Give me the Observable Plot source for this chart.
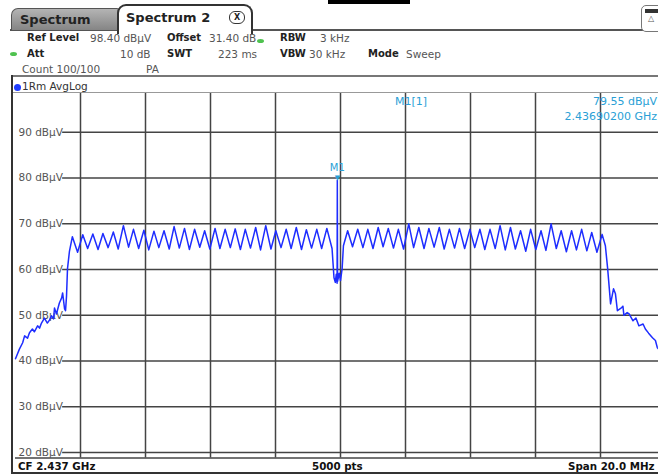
<!DOCTYPE html>
<html><head><meta charset="utf-8">
<script src="https://cdn.jsdelivr.net/npm/d3@7"></script>
<script src="https://cdn.jsdelivr.net/npm/@observablehq/plot@0.6"></script>
<style>
body{margin:0;background:#fff;font-family:"DejaVu Sans",sans-serif;}
#wrap{position:relative;width:658px;height:474px;overflow:hidden;background:#fff;}
#wrap svg{position:absolute;left:0;top:0;}
.abs{position:absolute;white-space:nowrap;}
.v{font-size:10.5px;color:#555;line-height:12px;}
.b{font-size:10px;font-weight:bold;color:#222;line-height:12px;}
.st{font-size:10.3px;font-weight:bold;color:#111;line-height:12px;}
.mk{font-size:11px;color:#2a9fd6;line-height:13px;}
.dotg{width:7px;height:4px;border-radius:50%;background:#4fc24f;}
</style></head>
<body><div id="wrap"></div>
<script>
// ---- data ----
const xDomain = [2427, 2447];          // MHz (CF 2.437 GHz, span 20 MHz)
const yDomain = [18.8, 98.5];          // dBµV
const yTicks = [20, 30, 40, 50, 60, 70, 80, 90];
const xGridTicks = [2429, 2431, 2433, 2435, 2437, 2439, 2441, 2443, 2445];

const skirtLeftFreq  = [2427.00, 2427.12, 2427.22, 2427.28, 2427.37, 2427.43, 2427.52, 2427.58, 2427.68, 2427.74, 2427.80, 2427.89, 2427.98, 2428.05, 2428.11, 2428.17, 2428.20, 2428.26, 2428.35, 2428.42, 2428.45, 2428.51, 2428.54, 2428.57, 2428.60, 2428.66];
const skirtLeftLevel = [40.5, 42.6, 44.0, 45.5, 45.0, 46.2, 47.0, 46.4, 47.7, 47.2, 48.3, 49.4, 48.3, 49.0, 49.9, 49.2, 51.6, 50.3, 52.7, 53.8, 54.9, 51.4, 51.0, 54.2, 60.2, 64.0];

const leftPeakFreq  = [2428.75, 2429.07, 2429.38, 2429.69, 2430.01, 2430.32, 2430.63, 2430.95, 2431.26, 2431.57, 2431.88, 2432.20, 2432.51, 2432.82, 2433.14, 2433.45, 2433.76, 2434.07, 2434.39, 2434.70, 2435.01, 2435.33, 2435.64, 2435.95, 2436.27, 2436.58];
const leftPeakLevel = [67.2, 67.6, 67.8, 67.9, 68.2, 69.6, 68.8, 68.6, 68.4, 68.5, 69.4, 69.0, 68.8, 68.5, 69.0, 68.8, 68.9, 68.8, 69.2, 69.6, 68.5, 68.8, 69.2, 68.7, 68.8, 69.0];
const leftTroughFreq  = [2428.91, 2429.22, 2429.54, 2429.85, 2430.16, 2430.48, 2430.79, 2431.10, 2431.41, 2431.73, 2432.04, 2432.35, 2432.67, 2432.98, 2433.29, 2433.61, 2433.92, 2434.23, 2434.54, 2434.86, 2435.17, 2435.48, 2435.80, 2436.11, 2436.42];
const leftTroughLevel = [63.8, 64.6, 64.4, 64.8, 64.5, 64.9, 64.6, 64.3, 64.8, 64.5, 64.7, 64.4, 64.9, 64.5, 64.6, 64.8, 64.4, 64.7, 64.3, 64.5, 64.8, 64.6, 64.4, 64.7, 64.6];

const notchFreq  = [2436.74, 2436.80, 2436.84, 2436.87, 2436.895, 2436.902, 2436.91, 2436.96, 2437.00, 2437.05, 2437.09];
const notchLevel = [64.6, 58.2, 57.2, 59.0, 57.0, 79.55, 57.4, 59.2, 57.6, 60.2, 65.2];

const rightPeakFreq  = [2437.22, 2437.53, 2437.84, 2438.16, 2438.47, 2438.78, 2439.10, 2439.41, 2439.72, 2440.04, 2440.35, 2440.66, 2440.98, 2441.29, 2441.60, 2441.91, 2442.23, 2442.54, 2442.85, 2443.17, 2443.48, 2443.79, 2444.11, 2444.42, 2444.73, 2445.05];
const rightPeakLevel = [68.5, 68.8, 68.8, 69.2, 69.0, 68.8, 70.0, 69.2, 69.0, 69.2, 68.8, 69.0, 68.8, 68.8, 68.8, 69.6, 69.2, 68.5, 68.8, 68.5, 70.0, 68.5, 68.5, 68.8, 68.1, 67.7];
const rightTroughFreq  = [2437.37, 2437.69, 2438.00, 2438.31, 2438.63, 2438.94, 2439.25, 2439.57, 2439.88, 2440.19, 2440.51, 2440.82, 2441.13, 2441.44, 2441.76, 2442.07, 2442.38, 2442.70, 2443.01, 2443.32, 2443.64, 2443.95, 2444.26, 2444.58, 2444.89];
const rightTroughLevel = [65.0, 64.8, 64.6, 65.0, 64.7, 64.5, 64.8, 64.6, 64.9, 64.5, 64.7, 64.6, 64.8, 64.4, 64.6, 64.3, 64.5, 64.0, 64.4, 64.2, 64.6, 63.9, 64.3, 64.1, 63.8];

const skirtRightFreq  = [2445.15, 2445.22, 2445.31, 2445.40, 2445.46, 2445.52, 2445.62, 2445.69, 2445.72, 2445.82, 2445.88, 2446.00, 2446.09, 2446.18, 2446.31, 2446.38, 2446.48, 2446.60, 2446.69, 2446.75, 2446.88, 2447.00];
const skirtRightLevel = [65.2, 60.2, 52.5, 55.8, 54.7, 51.0, 51.5, 52.0, 50.0, 50.6, 50.3, 48.8, 49.4, 47.7, 48.1, 47.0, 46.1, 45.1, 44.5, 42.9, 42.0, 41.2];

const markerName = "M1";
const markerFreq = 2436.902;   // MHz
const markerLevel = 79.55;     // dBµV

// ---- build trace table ----
const pairs = (fs, ls) => fs.map((f, i) => ({f, v: ls[i]}));
const trace = [
  ...pairs(skirtLeftFreq, skirtLeftLevel),
  ...pairs(leftPeakFreq, leftPeakLevel),
  ...pairs(leftTroughFreq, leftTroughLevel),
  ...pairs(notchFreq, notchLevel),
  ...pairs(rightPeakFreq, rightPeakLevel),
  ...pairs(rightTroughFreq, rightTroughLevel),
  ...pairs(skirtRightFreq, skirtRightLevel)
].sort((a, b) => a.f - b.f);
const marker = [{f: markerFreq, v: markerLevel}];

const gridColor = "#444";
const chart = Plot.plot({
  width: 680, height: 474,
  marginTop: 93, marginBottom: 16.5, marginLeft: 15, marginRight: 15,
  x: {domain: xDomain, axis: null},
  y: {domain: yDomain, axis: null},
  style: {background: "transparent", maxWidth: "none", fontFamily: "DejaVu Sans"},
  marks: [
    Plot.ruleX(xGridTicks, {stroke: gridColor, strokeWidth: 1.5}),
    Plot.ruleY(yTicks, {x1: 2428.45, x2: xDomain[1], stroke: gridColor, strokeWidth: 1.5}),
    Plot.ruleY([yDomain[0]], {stroke: gridColor, strokeWidth: 1.5}),
    Plot.text(yTicks, {x: xDomain[0], y: d => d, text: d => `${d} dBµV`, textAnchor: "start", dx: 3, fill: "#555", fontSize: 10.5}),
    Plot.line(trace, {x: "f", y: "v", stroke: "#1e2dff", strokeWidth: 1.5}),
    Plot.text(marker, {x: "f", y: "v", text: () => "▼", fill: "#2a9fd6", fontSize: 7, dy: -2}),
    Plot.text(marker, {x: "f", y: "v", text: () => markerName, fill: "#2a9fd6", fontSize: 10, dy: -12})
  ]
});
const wrap = document.getElementById("wrap");
wrap.appendChild(chart);

// ---- instrument chrome (HTML overlays) ----
const html = `
<div class="abs" style="left:328px;top:0;width:82px;height:4px;background:#000"></div>
<div class="abs" style="left:10px;top:29px;width:648px;height:2px;background:#555"></div>
<div class="abs" style="left:11px;top:8px;width:106px;height:21px;background:linear-gradient(#b4b4b4,#858585);border:1.5px solid #555;border-bottom:none;border-radius:7px 2px 0 0"></div>
<div class="abs" style="left:20px;top:12px;font-size:13px;font-weight:bold;color:#222">Spectrum</div>
<div class="abs" style="left:117px;top:4px;width:132px;height:28px;background:#fff;border:2px solid #333;border-bottom:none;border-radius:9px 9px 0 0"></div>
<div class="abs" style="left:126px;top:10px;font-size:13px;font-weight:bold;color:#222">Spectrum 2</div>
<div class="abs" style="left:229px;top:11px;width:14px;height:11px;border:1px solid #333;border-radius:6px;font-size:8px;font-weight:bold;text-align:center;line-height:11px;color:#222">X</div>
<div class="abs" style="left:641px;top:5px;width:20px;height:25px;border:1.5px solid #777;border-radius:5px;background:#fff"></div>
<div class="abs" style="left:645px;top:9px;width:13px;height:4px;background:#333"></div>
<div class="abs" style="left:648px;top:14px;font-size:8px;color:#555">△</div>

<div class="abs b" style="left:27px;top:32px">Ref Level</div>
<div class="abs v" style="left:90px;top:32px">98.40 dBµV</div>
<div class="abs b" style="left:167px;top:32px">Offset</div>
<div class="abs v" style="left:209px;top:32px">31.40 dB</div>
<div class="abs dotg" style="left:257px;top:39px"></div>
<div class="abs b" style="left:280px;top:32px">RBW</div>
<div class="abs v" style="left:320px;top:32px">3 kHz</div>

<div class="abs dotg" style="left:10px;top:52px"></div>
<div class="abs b" style="left:27px;top:48px">Att</div>
<div class="abs v" style="left:120px;top:48px">10 dB</div>
<div class="abs b" style="left:167px;top:48px">SWT</div>
<div class="abs v" style="left:218px;top:48px">223 ms</div>
<div class="abs b" style="left:280px;top:48px">VBW</div>
<div class="abs v" style="left:309px;top:48px">30 kHz</div>
<div class="abs b" style="left:368px;top:48px">Mode</div>
<div class="abs v" style="left:406px;top:48px">Sweep</div>

<div class="abs v" style="left:22px;top:63px">Count 100/100</div>
<div class="abs v" style="left:146px;top:63px">PA</div>

<div class="abs" style="left:12px;top:75px;width:646px;height:2px;background:#777"></div>
<div class="abs" style="left:11px;top:75px;width:2px;height:399px;background:#333"></div>
<div class="abs" style="left:11px;top:472px;width:647px;height:2px;background:#333"></div>
<div class="abs" style="left:13px;top:92px;width:645px;height:1px;background:#999"></div>
<div class="abs" style="left:14px;top:84px;width:7px;height:7px;border-radius:50%;background:#1f3cff"></div>
<div class="abs v" style="left:22px;top:80px;color:#333">1Rm AvgLog</div>

<div class="abs mk" style="left:395px;top:95px">${markerName}[1]</div>
<div class="abs mk" style="right:1px;top:95px">${markerLevel.toFixed(2)} dBµV</div>
<div class="abs mk" style="right:1px;top:110px">${(markerFreq / 1000).toFixed(8)} GHz</div>

<div class="abs st" style="left:18px;top:460px">CF ${(d3.mean(xDomain) / 1000).toFixed(3)} GHz</div>
<div class="abs st" style="left:312px;top:460px">5000 pts</div>
<div class="abs st" style="left:568px;top:460px">Span ${(xDomain[1] - xDomain[0]).toFixed(1)} MHz</div>
`;
wrap.insertAdjacentHTML("beforeend", html);
</script>
</body></html>
